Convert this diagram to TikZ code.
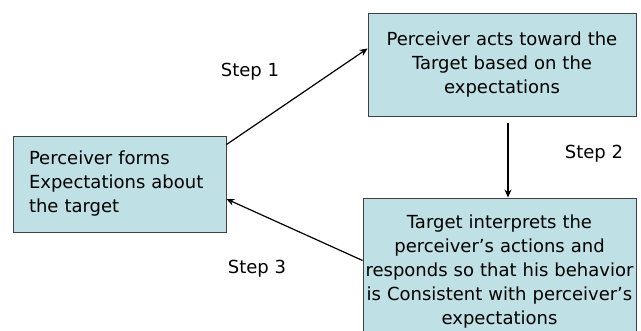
\documentclass[tikz,border=0pt]{standalone}
\usepackage{fontspec}
\setmainfont{DejaVu Sans}
\usetikzlibrary{arrows.meta,calc}
\definecolor{boxfill}{RGB}{191,225,229}
\definecolor{boxline}{RGB}{64,64,64}
\begin{document}
\begin{tikzpicture}[x=1pt,y=-1pt,
  box/.style={draw=boxline,line width=0.9pt,fill=boxfill,inner sep=0pt,
    font=\fontsize{18}{24}\selectfont},
  conn/.style={line width=1.2pt,-{Stealth[length=8pt,width=7pt]}},
  lbl/.style={font=\fontsize{18}{24}\selectfont}]
\useasboundingbox (0,0) rectangle (641,331);
\clip (0,0) rectangle (641,331);
\node[box,minimum width=268pt,minimum height=103pt,text width=266pt,align=center] (tb) at (502,64.5)
  {Perceiver acts toward the\\Target based on the\\expectations};
\node[box,minimum width=213pt,minimum height=96pt,text width=181pt,align=left] (lb) at (119.5,184)
  {Perceiver forms\\Expectations about\\the target};
\node[box,minimum width=273pt,minimum height=147pt,text width=273pt,align=center] (bb) at (499.5,271.5)
  {Target interprets the\\perceiver’s actions and\\responds so that his behavior\\is Consistent with perceiver’s\\expectations};
\draw[conn] ([yshift=-9pt]lb.north east) -- ([yshift=16pt]tb.west);
\coordinate (s2a) at ($(tb.south)+(6,7)$);
\draw[conn] (s2a) -- (s2a |- bb.north);
\draw[conn] ([yshift=11pt]bb.west) -- ([yshift=-15pt]lb.east);
\node[lbl] (l1) at (250,72) {Step 1};
\node[lbl] (l2) at (594,154) {Step 2};
\node[lbl] (l3) at (257,269) {Step 3};
\end{tikzpicture}
\end{document}
